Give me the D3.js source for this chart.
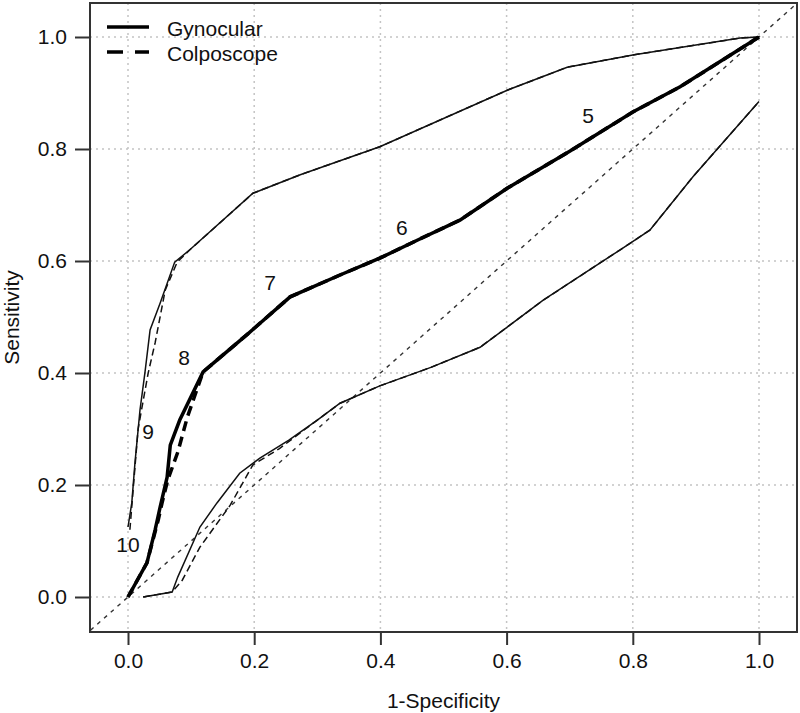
<!DOCTYPE html>
<html>
<head>
<meta charset="utf-8">
<script src="https://cdn.jsdelivr.net/npm/d3@7"></script>
<style>
  html, body { margin: 0; padding: 0; background: #fff; }
  svg text { font-family: "Liberation Sans", Arial, sans-serif; fill: #111; }
</style>
</head>
<body>
<svg id="chart" width="800" height="713"></svg>
<script>
// ---------- data ----------
const tickValues = [0.0, 0.2, 0.4, 0.6, 0.8, 1.0];
const legendLabels = ["Gynocular", "Colposcope"];

// Gynocular ROC (thick solid)
const gynX = [0, 0.030, 0.043, 0.051, 0.062, 0.067, 0.082, 0.119, 0.190, 0.257, 0.336, 0.399, 0.460, 0.526, 0.601, 0.700, 0.800, 0.875, 1.0];
const gynY = [0, 0.061, 0.120, 0.161, 0.214, 0.271, 0.316, 0.402, 0.470, 0.536, 0.575, 0.605, 0.638, 0.673, 0.730, 0.796, 0.866, 0.911, 1.0];

// Colposcope ROC (thick dashed)
const colX = [0, 0.030, 0.048, 0.054, 0.063, 0.079, 0.094, 0.119, 0.190, 0.257, 0.336, 0.399, 0.460, 0.526, 0.601, 0.700, 0.800, 0.875, 1.0];
const colY = [0, 0.061, 0.138, 0.168, 0.209, 0.259, 0.321, 0.402, 0.470, 0.536, 0.575, 0.605, 0.638, 0.673, 0.730, 0.796, 0.866, 0.911, 1.0];

// Upper confidence bands (thin)
const upGynX = [0.0, 0.006, 0.011, 0.019, 0.027, 0.035, 0.051, 0.074, 0.098, 0.198, 0.273, 0.399, 0.601, 0.696, 0.800, 0.970, 1.0];
const upGynY = [0.125, 0.168, 0.239, 0.334, 0.402, 0.477, 0.525, 0.598, 0.620, 0.721, 0.754, 0.804, 0.905, 0.946, 0.968, 0.998, 1.0];
const upColX = [0.003, 0.008, 0.016, 0.032, 0.043, 0.059, 0.078, 0.098, 0.198, 0.273, 0.399, 0.601, 0.696, 0.800, 0.970, 1.0];
const upColY = [0.120, 0.190, 0.300, 0.400, 0.454, 0.548, 0.598, 0.620, 0.721, 0.754, 0.804, 0.905, 0.946, 0.968, 0.998, 1.0];

// Lower confidence bands (thin)
const loGynX = [0.024, 0.070, 0.079, 0.114, 0.141, 0.177, 0.209, 0.255, 0.300, 0.336, 0.399, 0.480, 0.558, 0.601, 0.658, 0.780, 0.827, 0.895, 1.0];
const loGynY = [0.000, 0.009, 0.036, 0.125, 0.168, 0.221, 0.248, 0.280, 0.316, 0.346, 0.377, 0.410, 0.446, 0.482, 0.530, 0.620, 0.655, 0.750, 0.885];
const loColX = [0.024, 0.070, 0.086, 0.114, 0.162, 0.198, 0.240, 0.300, 0.336, 0.399, 0.480, 0.558, 0.601, 0.658, 0.780, 0.827, 0.895, 1.0];
const loColY = [0.000, 0.009, 0.030, 0.089, 0.164, 0.236, 0.265, 0.316, 0.346, 0.377, 0.410, 0.446, 0.482, 0.530, 0.620, 0.655, 0.750, 0.885];

// Threshold annotations
const annLabels = ["10", "9", "8", "7", "6", "5"];
const annX = [0.000, 0.032, 0.089, 0.225, 0.434, 0.729];
const annY = [0.093, 0.295, 0.427, 0.561, 0.659, 0.859];

// Reference diagonal
const diagX = [-0.07, 1.07];

// ---------- layout ----------
const svg = d3.select("#chart");
const plot = { left: 90, right: 797, top: 3, bottom: 632 };
const x = d3.scaleLinear().domain([0, 1]).range([128, 759]);
const y = d3.scaleLinear().domain([0, 1]).range([597, 37]);

svg.append("defs").append("clipPath").attr("id", "clip")
  .append("rect")
  .attr("x", plot.left).attr("y", plot.top)
  .attr("width", plot.right - plot.left).attr("height", plot.bottom - plot.top);

// grid
const grid = svg.append("g");
grid.selectAll("line.v").data(tickValues).enter().append("line")
  .attr("x1", d => x(d)).attr("x2", d => x(d))
  .attr("y1", plot.top).attr("y2", plot.bottom)
  .attr("stroke", "#c4c4c4").attr("stroke-width", 1.5).attr("stroke-dasharray", "2,4");
grid.selectAll("line.h").data(tickValues).enter().append("line")
  .attr("y1", d => y(d)).attr("y2", d => y(d))
  .attr("x1", plot.left).attr("x2", plot.right)
  .attr("stroke", "#c4c4c4").attr("stroke-width", 1.5).attr("stroke-dasharray", "2,4");

const line = d3.line().x(d => x(d[0])).y(d => y(d[1]));
const zip = (a, b) => a.map((v, i) => [v, b[i]]);

const g = svg.append("g").attr("clip-path", "url(#clip)");

// diagonal
g.append("path").datum(zip(diagX, diagX)).attr("d", line)
  .attr("fill", "none").attr("stroke", "#333").attr("stroke-width", 1.4)
  .attr("stroke-dasharray", "4,5");

// bands
g.append("path").datum(zip(upColX, upColY)).attr("d", line)
  .attr("fill", "none").attr("stroke", "#111").attr("stroke-width", 1.5).attr("stroke-dasharray", "7,4");
g.append("path").datum(zip(upGynX, upGynY)).attr("d", line)
  .attr("fill", "none").attr("stroke", "#111").attr("stroke-width", 1.5);
g.append("path").datum(zip(loColX, loColY)).attr("d", line)
  .attr("fill", "none").attr("stroke", "#111").attr("stroke-width", 1.5).attr("stroke-dasharray", "7,4");
g.append("path").datum(zip(loGynX, loGynY)).attr("d", line)
  .attr("fill", "none").attr("stroke", "#111").attr("stroke-width", 1.5);

// ROC curves
g.append("path").datum(zip(colX, colY)).attr("d", line)
  .attr("fill", "none").attr("stroke", "#000").attr("stroke-width", 3.5).attr("stroke-dasharray", "10,6");
g.append("path").datum(zip(gynX, gynY)).attr("d", line)
  .attr("fill", "none").attr("stroke", "#000").attr("stroke-width", 3.5);

// annotations
svg.append("g").selectAll("text").data(annLabels).enter().append("text")
  .attr("x", (d, i) => x(annX[i])).attr("y", (d, i) => y(annY[i]))
  .attr("text-anchor", "middle").attr("dominant-baseline", "central")
  .attr("font-size", 21).text(d => d);

// frame
svg.append("rect")
  .attr("x", plot.left).attr("y", plot.top)
  .attr("width", plot.right - plot.left).attr("height", plot.bottom - plot.top)
  .attr("fill", "none").attr("stroke", "#333").attr("stroke-width", 2);

// axes
const xAxis = d3.axisBottom(x).tickValues(tickValues).tickFormat(d3.format(".1f"))
  .tickSize(13).tickPadding(8);
const gx = svg.append("g").attr("transform", `translate(0,${plot.bottom})`).call(xAxis);
gx.select(".domain").remove();
gx.selectAll("line").attr("stroke", "#333").attr("stroke-width", 2);
gx.selectAll("text").attr("font-size", 21).attr("font-family", "Liberation Sans, Arial, sans-serif").attr("fill", "#111");

const yAxis = d3.axisLeft(y).tickValues(tickValues).tickFormat(d3.format(".1f"))
  .tickSize(15).tickPadding(8);
const gy = svg.append("g").attr("transform", `translate(${plot.left},0)`).call(yAxis);
gy.select(".domain").remove();
gy.selectAll("line").attr("stroke", "#333").attr("stroke-width", 2);
gy.selectAll("text").attr("font-size", 21).attr("font-family", "Liberation Sans, Arial, sans-serif").attr("fill", "#111");

// axis titles
svg.append("text").attr("x", (plot.left + plot.right) / 2).attr("y", 708)
  .attr("text-anchor", "middle").attr("font-size", 21).text("1-Specificity");
svg.append("text").attr("transform", `translate(19,${(plot.top + plot.bottom) / 2}) rotate(-90)`)
  .attr("text-anchor", "middle").attr("font-size", 21).text("Sensitivity");

// legend
const leg = svg.append("g");
const legY = [27, 52];
const legDash = [null, "16,12"];
legendLabels.forEach((lab, i) => {
  leg.append("line").attr("x1", 107).attr("x2", 149).attr("y1", legY[i]).attr("y2", legY[i])
    .attr("stroke", "#000").attr("stroke-width", 3.5)
    .attr("stroke-dasharray", legDash[i]);
  leg.append("text").attr("x", 167).attr("y", legY[i] + 1)
    .attr("dominant-baseline", "central").attr("font-size", 21).text(lab);
});
</script>
</body>
</html>
